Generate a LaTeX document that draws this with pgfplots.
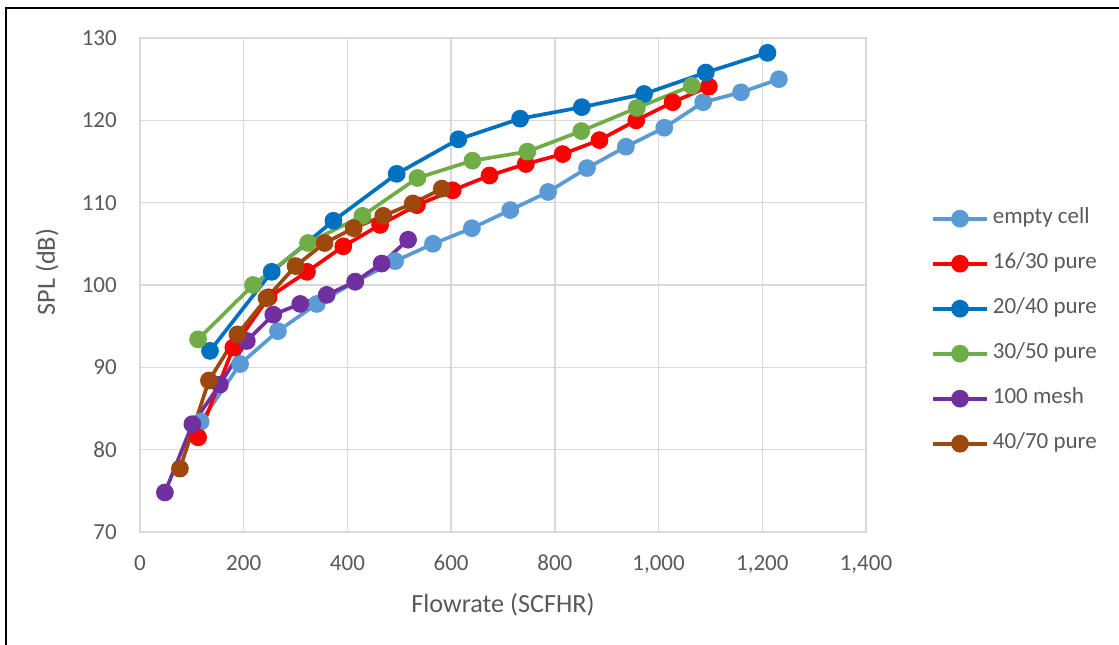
\documentclass[border=0pt]{standalone}
\usepackage{fontspec}
\setmainfont{Carlito}
\usepackage{pgfplots}
\pgfplotsset{compat=1.18}

\definecolor{gridgray}{HTML}{D9D9D9}
\definecolor{labelgray}{HTML}{595959}
\definecolor{cEmpty}{HTML}{5B9BD5}
\definecolor{cSixteen}{HTML}{FF0000}
\definecolor{cTwenty}{HTML}{0070C0}
\definecolor{cThirty}{HTML}{70AD47}
\definecolor{cMesh}{HTML}{7030A0}
\definecolor{cForty}{HTML}{9E480E}

\newcommand\tickfont{\fontsize{23bp}{27bp}\selectfont}
\newcommand\titlefont{\fontsize{26.2bp}{31bp}\selectfont}

\begin{document}
\begin{tikzpicture}
\useasboundingbox (-140bp,-113bp) rectangle (979bp,532bp);
% frame of the figure
\draw[black, line width=2bp] (-134bp,-113bp) -- (-134bp,524bp) -- (979bp,524bp);
\begin{axis}[
  at={(0,0)}, anchor=south west,
  scale only axis, width=726bp, height=494bp,
  xmin=0, xmax=1400, ymin=70, ymax=130,
  xtick={0,200,...,1400}, ytick={70,80,...,130},
  grid=major,
  major grid style={draw=gridgray, line width=1.3bp},
  axis line style={draw=gridgray, line width=1.3bp},
  major tick length=0pt,
  /pgf/number format/.cd, 1000 sep={,}, assume math mode=true,
  /pgfplots/.cd,
  ticklabel style={font=\tickfont, text=labelgray, inner sep=0pt},
  xticklabel style={anchor=north, yshift=-23bp},
  yticklabel style={anchor=east, xshift=-23bp},
  xlabel={Flowrate (SCFHR)},
  ylabel={SPL (dB)},
  xlabel style={font=\titlefont, text=labelgray, at={(rel axis cs:0.5,-0.1478)}, anchor=center},
  ylabel style={font=\titlefont, text=labelgray, at={(rel axis cs:-0.128,0.526)}, anchor=center},
  every axis plot/.append style={line width=3.7bp, mark=*, mark size=7bp, mark options={solid}},
  legend image code/.code={\draw[mark repeat=2, mark phase=2, #1] plot coordinates {(0bp,0bp) (27bp,0bp) (54bp,0bp)};},
  legend cell align=left,
  legend style={at={(rel axis cs:1.0895,0.4065)}, anchor=west, draw=none, fill=none,
    inner sep=0pt, font=\tickfont, text=labelgray, row sep=24bp, column sep=4bp,
    nodes={inner sep=0pt, text height=15bp, text depth=6bp}},
]
\addplot[color=cEmpty] coordinates {
  (117,83.4) (193,90.4) (266,94.4) (341,97.7) (415,100.4) (492,102.9)
  (565,105.0) (640,106.9) (714,109.1) (787,111.3) (862,114.2) (937,116.8)
  (1011,119.1) (1086,122.2) (1159,123.4) (1232,125.0)};
\addlegendentry{empty cell}
\addplot[color=cSixteen] coordinates {
  (112,81.5) (180,92.4) (248,98.5) (322,101.6) (392,104.7) (463,107.3)
  (534,109.7) (603,111.5) (674,113.3) (744,114.7) (815,115.9) (886,117.6)
  (957,120.0) (1027,122.2) (1097,124.1)};
\addlegendentry{16/30 pure}
\addplot[color=cTwenty] coordinates {
  (135,92.0) (254,101.6) (373,107.8) (495,113.5) (614,117.7) (733,120.2)
  (852,121.6) (972,123.2) (1091,125.8) (1210,128.2)};
\addlegendentry{20/40 pure}
\addplot[color=cThirty] coordinates {
  (112,93.4) (218,100.0) (324,105.1) (429,108.4) (535,113.0) (641,115.1)
  (747,116.2) (851,118.7) (958,121.5) (1064,124.2)};
\addlegendentry{30/50 pure}
\addplot[color=cMesh] coordinates {
  (48,74.8) (101,83.1) (154,87.9) (206,93.2) (257,96.4) (309,97.7)
  (360,98.8) (415,100.4) (466,102.6) (517,105.5)};
\addlegendentry{100 mesh}
\addplot[color=cForty] coordinates {
  (77,77.7) (133,88.4) (188,94.0) (244,98.4) (300,102.3) (356,105.1)
  (412,106.9) (469,108.4) (526,109.9) (582,111.7)};
\addlegendentry{40/70 pure}
\end{axis}
\end{tikzpicture}
\end{document}
